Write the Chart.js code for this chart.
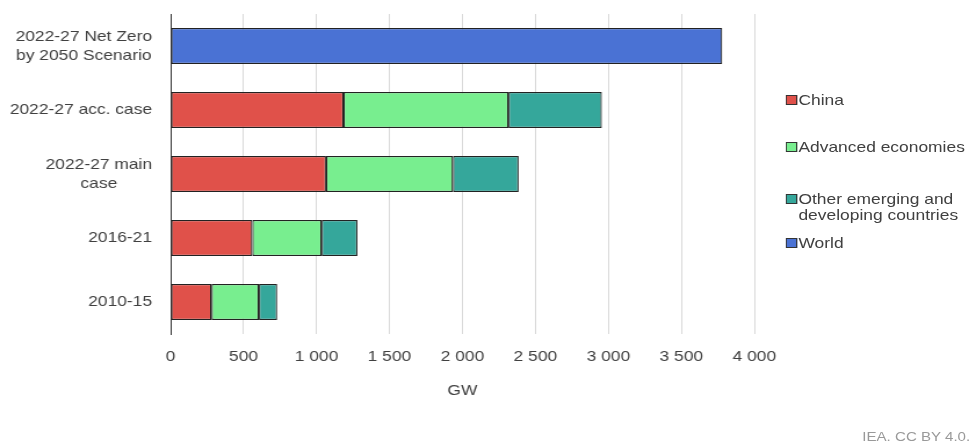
<!DOCTYPE html>
<html>
<head>
<meta charset="utf-8">
<script src="https://cdn.jsdelivr.net/npm/chart.js@4.4.1/dist/chart.umd.min.js"></script>
<style>
  html, body { margin: 0; padding: 0; background: #fff; overflow: hidden; }
  /* the reference is a bit wider than tall, so the whole figure is stretched sideways */
  #wrap { position: relative; width: 841px; height: 445px; transform: scaleX(1.1605); transform-origin: 0 0;
          font-family: "Liberation Sans", Arial, sans-serif; color: #404040; }
  #chartBox { position: absolute; left: 0; top: 0; width: 841px; height: 445px; }
  #legend { position: absolute; left: 677px; top: 0; font-size: 15px; line-height: 16px; }
  .item { position: absolute; left: 0; white-space: nowrap; padding-left: 11px; }
  .box { position: absolute; left: 0; top: 3px; width: 8px; height: 8px; border: 1px solid #333; }
  #source { position: absolute; right: 5px; top: 429px; font-size: 13px; color: #999; }
</style>
</head>
<body>
<div id="wrap">
  <div id="chartBox"><canvas id="myChart"></canvas></div>
  <div id="legend"></div>
  <div id="source">IEA. CC BY 4.0.</div>
</div>
<script>
const categories = [
  ['2022-27 Net Zero', 'by 2050 Scenario'],
  '2022-27 acc. case',
  ['2022-27 main', 'case'],
  '2016-21',
  '2010-15'
];
const china    = [null, 1185, 1065, 560, 280];
const advanced = [null, 1130, 870, 475, 325];
const other    = [null, 640, 450, 245, 125];
const world    = [3780, null, null, null, null];

const xTicks = [0, 500, 1000, 1500, 2000, 2500, 3000, 3500, 4000];

const seriesNames = ['China', 'Advanced economies', ['Other emerging and', 'developing countries'], 'World'];
const seriesColors = ['#e0514a', '#78ee8f', '#35a79b', '#4a72d4'];

const textFont = { family: '"Liberation Sans", Arial, sans-serif', size: 15 };
const textColor = '#404040';

const fmt = v => String(v).replace(/\B(?=(\d{3})+(?!\d))/g, ' ');

// multi line category labels are centred on themselves, right edge at the axis
const centeredLabels = {
  id: 'centeredLabels',
  afterDraw(chart) {
    const scale = chart.scales.y;
    const ctx = chart.ctx;
    ctx.save();
    ctx.font = '15px "Liberation Sans", Arial, sans-serif';
    ctx.fillStyle = textColor;
    ctx.textAlign = 'center';
    ctx.textBaseline = 'middle';
    const right = scale.right - 16;
    categories.forEach((label, i) => {
      const lines = [].concat(label);
      const w = Math.max(...lines.map(l => ctx.measureText(l).width));
      const y = scale.getPixelForValue(i);
      lines.forEach((l, k) => {
        ctx.fillText(l, right - w / 2, y + (k - (lines.length - 1) / 2) * 19);
      });
    });
    ctx.restore();
  }
};

const values = [china, advanced, other, world];
const datasets = values.map((data, i) => ({
  label: [].concat(seriesNames[i]).join(' '),
  data: data,
  backgroundColor: seriesColors[i],
  borderColor: '#222',
  borderWidth: 1.2,
  borderSkipped: false,
  categoryPercentage: 0.6,
  barPercentage: 0.94
}));

const ctx = document.getElementById('myChart').getContext('2d');
const chart = new Chart(ctx, {
  type: 'bar',
  data: { labels: categories, datasets: datasets },
  options: {
    indexAxis: 'y',
    responsive: true,
    maintainAspectRatio: false,
    animation: false,
    layout: { padding: { left: 0, right: 191, top: 14, bottom: 45 } },
    plugins: { legend: { display: false }, tooltip: { enabled: false } },
    scales: {
      x: {
        stacked: true,
        min: 0,
        max: 4000,
        afterBuildTicks: scale => { scale.ticks = xTicks.map(v => ({ value: v })); },
        grid: { color: '#d9d9d9', drawTicks: false },
        border: { display: false },
        ticks: { padding: 14, color: textColor, font: textFont, callback: v => fmt(v), maxRotation: 0 },
        title: { display: true, text: 'GW', color: textColor, font: textFont, padding: { top: 2, bottom: 0 } }
      },
      y: {
        stacked: true,
        grid: { display: false, drawTicks: false },
        border: { display: true, color: '#333', width: 1 },
        ticks: { display: false },
        afterFit: scale => { scale.width = 147; }
      }
    }
  },
  plugins: [centeredLabels]
});

// legend built from the series names and colours
const legendTops = [92, 139, 191, 235];
const legend = document.getElementById('legend');
seriesNames.forEach((name, i) => {
  const item = document.createElement('div');
  item.className = 'item';
  item.style.top = legendTops[i] + 'px';
  item.innerHTML = '<span class="box" style="background:' + seriesColors[i] + '"></span>' + [].concat(name).join('<br>');
  legend.appendChild(item);
});
</script>
</body>
</html>
